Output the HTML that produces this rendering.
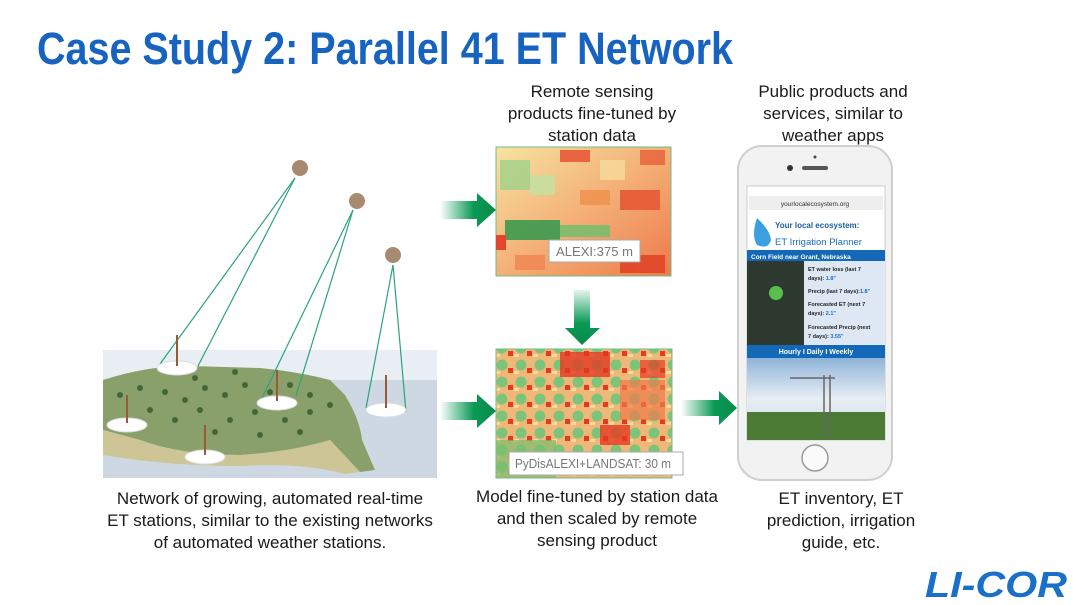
<!DOCTYPE html>
<html><head><meta charset="utf-8"><style>
html,body{margin:0;padding:0;background:#fff;width:1080px;height:605px;overflow:hidden}
.t{font-family:"Liberation Sans",sans-serif;fill:#1a1a1a;font-size:17px}
</style></head><body>
<svg width="1080" height="605" viewBox="0 0 1080 605" xmlns="http://www.w3.org/2000/svg">
<defs>
<linearGradient id="ah" x1="0" x2="1"><stop offset="0" stop-color="#0a9a55" stop-opacity="0"/><stop offset="0.6" stop-color="#0a9a55"/><stop offset="1" stop-color="#078a4a"/></linearGradient>
<linearGradient id="av" x1="0" y1="0" x2="0" y2="1"><stop offset="0" stop-color="#0a9a55" stop-opacity="0.1"/><stop offset="0.6" stop-color="#0a9a55"/><stop offset="1" stop-color="#078a4a"/></linearGradient>
<linearGradient id="sky" x1="0" y1="0" x2="0" y2="1"><stop offset="0" stop-color="#8fb4d8"/><stop offset="0.5" stop-color="#e8eef4"/><stop offset="1" stop-color="#c8d6e2"/></linearGradient>
<linearGradient id="m1" x1="0" y1="0" x2="1" y2="1"><stop offset="0" stop-color="#f6e3a0"/><stop offset="0.5" stop-color="#f4b077"/><stop offset="1" stop-color="#ee7a4a"/></linearGradient>
<pattern id="pv" width="19" height="17" patternUnits="userSpaceOnUse"><rect width="19" height="17" fill="#f0b878"/><circle cx="8" cy="8" r="5.5" fill="#7cc47a"/><rect x="14" y="11" width="5" height="5" fill="#e53a22"/><rect x="1" y="14" width="5" height="3" fill="#f5dc9a"/></pattern>
</defs>

<text x="37" y="64" font-family="Liberation Sans,sans-serif" font-weight="bold" font-size="45" fill="#1763c0" textLength="696" lengthAdjust="spacingAndGlyphs">Case Study 2: Parallel 41 ET Network</text>

<g class="t" text-anchor="middle">
<text x="592" y="97">Remote sensing</text><text x="592" y="119">products fine-tuned by</text><text x="592" y="141">station data</text>
<text x="833" y="97">Public products and</text><text x="833" y="119">services, similar to</text><text x="833" y="141">weather apps</text>
<text x="270" y="504">Network of growing, automated real-time</text><text x="270" y="526">ET stations, similar to the existing networks</text><text x="270" y="548">of automated weather stations.</text>
<text x="597" y="502">Model fine-tuned by station data</text><text x="597" y="524">and then scaled by remote</text><text x="597" y="546">sensing product</text>
<text x="841" y="504">ET inventory, ET</text><text x="841" y="526">prediction, irrigation</text><text x="841" y="548">guide, etc.</text>
</g>

<rect x="103" y="350" width="334" height="128" fill="#e8eef3"/>
<rect x="103" y="380" width="334" height="98" fill="#cdd8e2"/>
<path d="M103 380 Q150 365 190 366 L260 368 Q300 372 330 380 L345 395 Q360 420 362 440 L375 470 L360 472 L330 440 Q290 452 240 455 Q180 455 140 440 L103 430 Z" fill="#8aa06a"/>
<path d="M103 430 L140 440 Q180 455 240 455 Q290 452 330 440 L360 472 L345 474 Q300 462 240 466 Q170 466 103 455 Z" fill="#cdc596"/>
<g fill="#2f5a2e" opacity="0.8">
<circle cx="120" cy="395" r="3"/><circle cx="140" cy="388" r="3"/><circle cx="165" cy="392" r="3"/><circle cx="185" cy="400" r="3"/><circle cx="205" cy="388" r="3"/><circle cx="225" cy="395" r="3"/><circle cx="245" cy="385" r="3"/><circle cx="270" cy="392" r="3"/><circle cx="290" cy="385" r="3"/><circle cx="310" cy="395" r="3"/><circle cx="150" cy="410" r="3"/><circle cx="175" cy="420" r="3"/><circle cx="200" cy="410" r="3"/><circle cx="230" cy="420" r="3"/><circle cx="255" cy="412" r="3"/><circle cx="285" cy="420" r="3"/><circle cx="310" cy="412" r="3"/><circle cx="330" cy="405" r="3"/><circle cx="215" cy="432" r="3"/><circle cx="260" cy="435" r="3"/><circle cx="300" cy="432" r="3"/><circle cx="195" cy="378" r="3"/><circle cx="235" cy="372" r="3"/>
</g>
<g stroke="#2aa47a" stroke-width="1.2" fill="none">
<line x1="295" y1="178" x2="160" y2="364"/><line x1="295" y1="178" x2="198" y2="366"/>
<line x1="353" y1="210" x2="262" y2="398"/><line x1="353" y1="210" x2="296" y2="396"/>
<line x1="393" y1="265" x2="366" y2="408"/><line x1="393" y1="265" x2="406" y2="412"/>
</g>
<g fill="#fff" stroke="#ddd"><ellipse cx="177" cy="368" rx="20" ry="7"/><ellipse cx="277" cy="403" rx="20" ry="7"/><ellipse cx="386" cy="410" rx="20" ry="7"/><ellipse cx="127" cy="425" rx="20" ry="7"/><ellipse cx="205" cy="457" rx="20" ry="7"/></g>
<g stroke="#9a5a3a" stroke-width="2"><line x1="177" y1="335" x2="177" y2="366"/><line x1="277" y1="370" x2="277" y2="401"/><line x1="386" y1="375" x2="386" y2="408"/><line x1="127" y1="395" x2="127" y2="423"/><line x1="205" y1="425" x2="205" y2="455"/></g>
<g fill="#a88a70"><circle cx="300" cy="168" r="8"/><circle cx="357" cy="201" r="8"/><circle cx="393" cy="255" r="8"/></g>

<rect x="496" y="147" width="175" height="129" fill="url(#m1)" stroke="#6dbd8a"/>
<g opacity="0.9">
<rect x="500" y="160" width="30" height="30" fill="#a9d28a"/><rect x="530" y="175" width="25" height="20" fill="#c7e0a0"/><rect x="560" y="150" width="30" height="12" fill="#e85a3a"/><rect x="620" y="190" width="40" height="20" fill="#e55a35"/><rect x="640" y="150" width="25" height="15" fill="#e86a40"/><rect x="505" y="220" width="55" height="20" fill="#3d9a4f"/><rect x="560" y="225" width="50" height="12" fill="#7bbd6e"/><rect x="496" y="235" width="10" height="15" fill="#e23a22"/><rect x="620" y="255" width="45" height="18" fill="#e04528"/><rect x="515" y="255" width="30" height="15" fill="#f08a55"/><rect x="580" y="190" width="30" height="15" fill="#f0944f"/><rect x="600" y="160" width="25" height="20" fill="#f7d898"/></g>
<rect x="549" y="240" width="91" height="22" fill="#fff" stroke="#aaa"/>
<text x="556" y="256" font-family="Liberation Sans,sans-serif" font-size="13" fill="#777" textLength="77" lengthAdjust="spacingAndGlyphs">ALEXI:375 m</text>

<rect x="496" y="349" width="176" height="129" fill="url(#pv)" stroke="#6dbd8a"/>
<rect x="560" y="352" width="50" height="25" fill="#e03a22" opacity="0.8"/><rect x="620" y="380" width="45" height="40" fill="#ee7a4a" opacity="0.7"/><rect x="496" y="440" width="60" height="38" fill="#7bbd6e" opacity="0.7"/><rect x="600" y="425" width="30" height="20" fill="#e53a22" opacity="0.8"/><rect x="640" y="360" width="25" height="18" fill="#e53a22" opacity="0.7"/>
<rect x="509" y="452" width="174" height="23" fill="#fff" stroke="#aaa"/>
<text x="515" y="468" font-family="Liberation Sans,sans-serif" font-size="13" fill="#777" textLength="156" lengthAdjust="spacingAndGlyphs">PyDisALEXI+LANDSAT: 30 m</text>

<path d="M440 201 H477 V193 L496 210 L477 227 V219 H440 Z" fill="url(#ah)"/>
<path d="M440 402 H477 V394 L496 411 L477 428 V420 H440 Z" fill="url(#ah)"/>
<path d="M681 400 H719 V391 L737 408 L719 425 V416 H681 Z" fill="url(#ah)"/>
<path d="M574 290 H590 V328 H600 L582 345 L565 328 H574 Z" fill="url(#av)"/>

<rect x="738" y="146" width="154" height="334" rx="24" fill="#f2f2f2" stroke="#cfcfcf" stroke-width="2"/>
<circle cx="815" cy="157" r="1.5" fill="#444"/><circle cx="790" cy="168" r="3" fill="#333"/><rect x="802" y="166" width="26" height="4" rx="2" fill="#555"/>
<circle cx="815" cy="458" r="13" fill="#fafafa" stroke="#999" stroke-width="1.5"/>
<rect x="747" y="186" width="138" height="254" fill="#fff" stroke="#ccc"/>
<rect x="749" y="196" width="134" height="14" fill="#eee"/>
<text x="815" y="206" text-anchor="middle" font-family="Liberation Sans,sans-serif" font-size="6.5" fill="#333">yourlocalecosystem.org</text>
<path d="M757 218 Q751 236 757 245 Q768 250 771 240 Q770 230 757 218Z" fill="#3ba0dd"/>
<text x="775" y="228" font-family="Liberation Sans,sans-serif" font-size="8" font-weight="bold" fill="#1a5fa0">Your local ecosystem:</text>
<text x="775" y="245" font-family="Liberation Sans,sans-serif" font-size="9.5" fill="#1a6cc0">ET Irrigation Planner</text>
<rect x="747" y="250" width="138" height="11" fill="#1468b8"/>
<text x="751" y="259" font-family="Liberation Sans,sans-serif" font-size="6.5" font-weight="bold" fill="#fff">Corn Field near Grant, Nebraska</text>
<rect x="747" y="261" width="57" height="84" fill="#2e3a30"/>
<circle cx="776" cy="293" r="7" fill="#5bbf4f"/>
<rect x="804" y="261" width="81" height="84" fill="#dde8f4"/>
<g font-family="Liberation Sans,sans-serif" font-size="5.5" font-weight="bold" fill="#222">
<text x="808" y="271">ET water loss (last 7</text><text x="808" y="280">days): <tspan fill="#1a6cc0">1.8"</tspan></text>
<text x="808" y="293">Precip (last 7 days):<tspan fill="#1a6cc0">1.8"</tspan></text>
<text x="808" y="306">Forecasted ET (next 7</text><text x="808" y="315">days): <tspan fill="#1a6cc0">2.1"</tspan></text>
<text x="808" y="329">Forecasted Precip (next</text><text x="808" y="338">7 days): <tspan fill="#1a6cc0">3.55"</tspan></text>
</g>
<rect x="747" y="345" width="138" height="13" fill="#1468b8"/>
<text x="816" y="354" text-anchor="middle" font-family="Liberation Sans,sans-serif" font-size="7" font-weight="bold" fill="#fff">Hourly   I   Daily   I   Weekly</text>
<rect x="747" y="358" width="138" height="82" fill="url(#sky)"/>
<rect x="747" y="412" width="138" height="28" fill="#4a7a34"/>
<g stroke="#666" stroke-width="1.5"><line x1="824" y1="375" x2="824" y2="438"/><line x1="830" y1="375" x2="830" y2="438"/><line x1="790" y1="378" x2="835" y2="378"/></g>

<text x="925" y="597" font-family="Liberation Sans,sans-serif" font-weight="bold" font-style="italic" font-size="36" fill="#1a6fc9" textLength="142" lengthAdjust="spacingAndGlyphs">LI-COR</text>
</svg>
</body></html>
